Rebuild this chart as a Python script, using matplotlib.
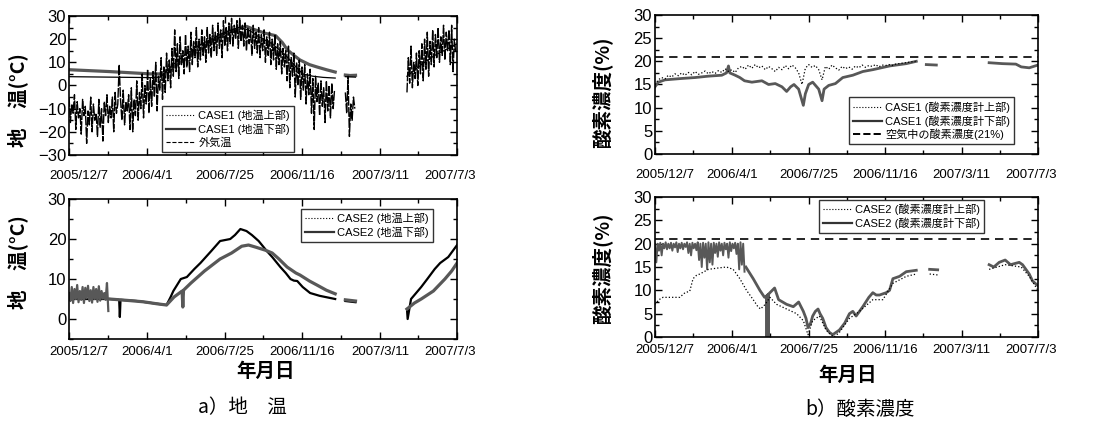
import numpy as np
import pandas as pd
import matplotlib
matplotlib.use("Agg")
import matplotlib.pyplot as plt
import matplotlib.transforms as mtransforms
from matplotlib.lines import Line2D
from matplotlib.ticker import MultipleLocator

nan = np.nan
START = pd.Timestamp("2005-12-07")
END = pd.Timestamp("2007-07-03")
tick_labels = ["2005/12/7", "2006/4/1", "2006/7/25", "2006/11/16", "2007/3/11", "2007/7/3"]

# ---- a) ground temperature, CASE1 (days since 2005/12/7) ----
c1_low_days = [0, 30, 60, 90, 120, 135, 150, 170, 190, 210, 230, 250, 262, 275, 290, 305,
               315, 322, 332, 341, 355, 366, 380, 393, 400, 408, 415, 423]
c1_low_vals = [6.8, 6.4, 6.0, 5.5, 5.0, 5.0, 7, 11, 15, 19, 22, 24.5, 25.5, 24, 22.5, 21.5,
               18.5, 15.5, 13, 11, 9, 8, 6.8, 5.8, nan, 4.5, 4.3, 4.4]
c1_up_days = [0, 60, 120, 135, 150, 170, 190, 210, 230, 250, 265, 280, 300, 320, 335, 345,
              360, 375, 393, 400, 408, 423, 450, 499, 520, 540, 560, 573]
c1_up_vals = [3.8, 3.6, 3.4, 3.6, 8, 13, 17, 20, 23, 25, 24, 21, 18, 13, 8, 5,
              4, 3.5, 3.2, nan, 3.8, 3.6, nan, 4, 9, 13, 16, 18]

# outside air temperature, 2-day samples in three recorded periods
air_1 = [-5, -16, -8, -12, -4, -19, -7, -14, -10, -21,
         -6, -13, -9, -25, -11, -17, -5, -20, -8, -15,
         -12, -22, -6, -18, -10, -24, -7, -13, -4, -16,
         -9, -14, -5, -20, -3, -12, -8, 9, -6, -15,
         -2, -17, -7, -11, -4, -19, -1, -20, -6, -13,
         2, -15, -3, -10, 5, -14, 0, -8, 7, -12,
         3, -9, 6, -5, 10, -11, 4, -2, 12, -6,
         8, -3, 14, 2, 11, -1, 16, 4, 24, 6,
         18, 3, 21, 9, 15, 5, 22, 8, 17, 6,
         23, 9, 19, 12, 25, 8, 20, 11, 24, 13,
         21, 10, 25, 14, 22, 12, 26, 15, 23, 13,
         27, 16, 24, 12, 28, 17, 25, 15, 27, 18,
         29, 17, 26, 20, 28, 16, 29, 19, 26, 17,
         27, 15, 25, 18, 24, 13, 26, 16, 23, 14,
         25, 12, 22, 15, 24, 10, 21, 13, 23, 9,
         20, 11, 22, 7, 18, 9, 19, 5, 16, 8,
         15, 2, 17, -1, 12, 4, 14, -5, 10, 0,
         11, -6, 8, -2, 9, -8, 5, -4, 7, -12,
         3, -19, 4, -7, 1, -13, 2, -9, -1, -16,
         2, -11, 0, -14, 1, -10, -2]
air_2 = [-3, -12, 4, -22, -8, -15, -5, -10]
air_3 = [-3, 12, 1, 17, -1, 10, 3, 14, 0, 15, 5, 18, 2, 20, 7, 23, 4, 19, 9, 24,
         8, 22, 12, 25, 10, 21, 13, 26, 11, 23, 15, 24, 9, 26, 6, 20, 14]
air_starts = [0, 408, 499]

# ---- a) ground temperature, CASE2 ----
c2_band = [6.5, 4.5, 8, 4, 7.5, 5, 8.5, 4.2, 7, 4.8, 8, 4, 7.8, 5.2, 8.3, 4.5, 7.2, 4.1, 8, 5,
           7.5, 4.3, 8.2, 4.6, 7, 5.1, 6.5, 4.8, 9, 2]
c2_low_days = [60, 75, 90, 110, 130, 144, 155, 167, 168, 169, 180, 200, 223, 240, 255, 265, 275,
               290, 300, 310, 322, 335, 341, 355, 366, 380, 393, 400, 408, 423, 450,
               499, 510, 520, 538, 555, 565, 573]
c2_low_vals = [5, 4.8, 4.6, 4.3, 3.8, 3.5, 5.5, 7, 3, 7.2, 9, 12, 15, 16.5, 18.2, 18.5, 18,
               17.2, 16.5, 15, 13, 11.5, 11, 9.5, 8.5, 7.2, 6.3, nan, 4.8, 4.5, nan,
               2.5, 4, 5, 7, 10, 12, 14]
c2_up_days = [0, 60, 74, 75, 76, 100, 144, 150, 154, 165, 174, 185, 194, 210, 223, 238, 245, 253,
              262, 270, 280, 292, 300, 312, 320, 327, 332, 337, 345, 356, 370, 393, 400,
              408, 423, 450, 499, 500, 505, 520, 529, 540, 548, 560, 573]
c2_up_vals = [5, 5, 4.8, 0.5, 4.8, 4.5, 3.5, 5.5, 7, 10, 10.5, 12.5, 14, 17, 19.5, 20, 21, 22.5,
              22, 21, 19.5, 17, 15.5, 13, 11.5, 10, 9.6, 9.5, 8, 6.5, 5.8, 5, nan,
              4.5, 4.2, nan, 2.5, 0, 5, 8, 10, 12.5, 14, 15.5, 18.5]

# ---- b) oxygen concentration, CASE1 ----
o1_low_days = [0, 5, 15, 40, 60, 80, 100, 107, 110, 112, 120, 127, 134, 145, 160, 170, 180, 190,
               197, 203, 208, 215, 219, 222, 225, 230, 236, 245, 250, 253, 260, 270, 281, 296,
               311, 326, 351, 376, 391, 398, 406, 421, 460, 500, 520, 540, 548, 560, 573]
o1_low_vals = [14.5, 15.5, 16, 16.3, 16.5, 16.8, 17, 17.5, 19, 17.5, 17, 16.5, 15.8, 15.5, 15.8,
               15, 15.2, 14.5, 13.5, 14.5, 15, 14, 12, 10.5, 13, 15, 15.5, 14, 11.5, 14, 14.8,
               15.2, 16.5, 17, 17.8, 18.2, 19, 19.5, 20, nan, 19.3, 19.2, nan,
               19.7, 19.5, 19.4, 18.8, 18.6, 19.2]
# upper sensor, 5-day samples from 2005/12/7
o1_up = [15, 16, 16.5, 16.2, 17, 16.6, 17.3, 16.9, 17.5, 17,
         17.6, 17.1, 17.8, 17.2, 17.5, 17.9, 17.3, 17.8, 17.4, 18,
         17.6, 18.4, 17.8, 18.2, 17.6, 18.6, 18.9, 18.3, 19.2, 18.5,
         19.3, 18.6, 19, 18.2, 18.9, 18.4, 17.8, 18.7, 18.2, 19.1,
         18.4, 19.2, 18.6, 17.5, 15, 18.5, 19.3, 18.7, 19.1, 18.2,
         16, 18.9, 18.3, 19.2, 18.6, 18.1, 18.9, 18.4, 18.8, 18.3,
         19, 18.6, 19.2, 18.7, 19.1, 18.9, 19.3, 18.8, 19.2, 19.1,
         19.3, 19.1, 19.4, 19.5, 19.6, 19.7, 19.8, 19.9, 20]
air_o2 = 21

# ---- b) oxygen concentration, CASE2 ----
# lower sensor, 2-day samples 2005/12/7 - 2006/4/20
o2_band = [20, 16, 20, 18.5, 20.2, 17.5, 20, 19, 20.3, 18.8,
           20, 19, 20.2, 18.5, 20, 19.2, 20.3, 18.2, 20, 19,
           20.2, 18.8, 20, 19.3, 20.3, 18, 20, 17.5, 20.2, 19,
           20, 18.6, 20.3, 16.5, 20, 15, 20.2, 17, 20, 14.5,
           20.3, 16, 20, 15.5, 20.2, 18, 20, 17.2, 20.3, 18.5,
           20, 17.5, 20.2, 18.8, 20, 17, 20.3, 18.4, 20, 19,
           20.2, 17.8, 20, 14.5, 20.3, 15.5, 20, 14]
o2_low_days = [136, 147, 157, 164, 167, 167.5, 168, 168.5, 169, 169.5, 170, 172, 179, 185, 197,
               207, 215, 222, 226, 229, 233, 236, 240, 244, 247, 251, 256, 261, 266, 271, 276,
               284, 291, 296, 301, 311, 320, 326, 331, 336, 346, 351, 356, 366, 376, 391, 400,
               411, 423, 460, 500, 507, 515, 524, 532, 545, 550, 560, 565, 573]
o2_low_vals = [15, 12.5, 10, 8.5, 8.8, 0, 9, 0, 9, 0, 9.2, 9.5, 10.5, 8, 7, 6.5, 7.5, 5.5, 4, 2,
               3, 4.5, 5.5, 6, 5, 4, 2, 1, 0.5, 1, 1.5, 3, 5, 5.5, 4.5, 6.5, 8.5, 9.5, 9, 9,
               9.5, 10, 12.5, 13, 14, 14.3, nan, 14.5, 14.4, nan,
               15.5, 15, 16, 16.5, 15.5, 16, 15.5, 13.5, 12, 11]
o2_up_days = [0, 6, 12, 25, 37, 45, 52, 57, 62, 67, 80, 95, 107, 117, 122, 127, 137, 147, 154,
              158, 165, 172, 182, 197, 212, 222, 229, 236, 246, 256, 263, 268, 276, 291, 306,
              326, 341, 356, 376, 391, 400, 411, 423, 460, 500, 524, 548, 560, 573]
o2_up_vals = [7, 8, 8.5, 8.5, 8.5, 9.5, 9.8, 12.5, 13.2, 13.5, 14.5, 14.8, 15, 14.5, 13.5,
              12.5, 10, 8, 6.5, 6, 7, 8.5, 7, 6, 5, 3.5, 0.5, 3.5, 4.5, 1.5, 0.5, 0, 1, 4,
              5.5, 8, 8, 11.5, 13, 13.5, nan, 13.5, 13.3, nan, 14.5, 15.5, 15, 13, 10]


def to_dates(days):
    return START + pd.to_timedelta(np.asarray(days, dtype=float), unit="D")


def sampled(vals, first, step):
    return to_dates(first + step * np.arange(len(vals))), vals


LATIN = ["Liberation Sans", "Noto Sans CJK JP"]
CJK = ["Noto Sans CJK JP", "DejaVu Sans"]
GRAY = "#585858"

fig = plt.figure(figsize=(11.03, 4.26), dpi=100)
ax_a1 = fig.add_axes([0.0626, 0.6362, 0.3518, 0.3263])
ax_a2 = fig.add_axes([0.0626, 0.2042, 0.3518, 0.3286])
ax_b1 = fig.add_axes([0.5938, 0.6385, 0.3472, 0.3263])
ax_b2 = fig.add_axes([0.5938, 0.2089, 0.3472, 0.3286])

label_dates = pd.to_datetime(tick_labels, format="%Y/%m/%d")
mid_dates = label_dates[:-1] + (label_dates[1:] - label_dates[:-1]) / 2


def style(ax, ylim, major, minor, pad):
    ax.set_xlim(START, END)
    ax.set_ylim(*ylim)
    ax.set_xticks(label_dates)
    ax.set_xticks(mid_dates, minor=True)
    ax.set_xticklabels(tick_labels, family=LATIN, fontsize=9.5)
    ax.yaxis.set_major_locator(MultipleLocator(major))
    ax.yaxis.set_minor_locator(MultipleLocator(minor))
    for lab in ax.get_yticklabels():
        lab.set_family(LATIN)
        lab.set_fontsize(12)
    ax.tick_params(which="both", direction="in", top=True, right=True, width=1.0)
    ax.tick_params(which="major", length=5)
    ax.tick_params(which="minor", length=3)
    ax.tick_params(axis="x", pad=pad)
    ax.tick_params(axis="y", pad=2)
    for s in ax.spines.values():
        s.set_linewidth(1.2)
    xl = ax.get_xticklabels()
    xl[0].set_transform(xl[0].get_transform() + mtransforms.ScaledTranslation(10 / 100, 0, fig.dpi_scale_trans))
    xl[-1].set_transform(xl[-1].get_transform() + mtransforms.ScaledTranslation(-7 / 100, 0, fig.dpi_scale_trans))


def add_legend(ax, labels, styles, loc, anchor):
    h = [Line2D([], [], color=c, lw=w, ls=s) for c, w, s in styles]
    ax.legend(h, labels, loc=loc, bbox_to_anchor=anchor, prop={"family": LATIN, "size": 8},
              fancybox=False, edgecolor="#333333", framealpha=1, handlelength=2.6,
              handletextpad=0.3, borderpad=0.35, labelspacing=0.2, borderaxespad=0)


dotted = ("black", 0.8, ":")
solid = ("#333333", 1.6, "-")

# a) top
ax_a1.plot(to_dates(c1_low_days), c1_low_vals, color=GRAY, lw=2.3)
ax_a1.plot(to_dates(c1_up_days), c1_up_vals, color="black", lw=0.9)
for vals, first in zip([air_1, air_2, air_3], air_starts):
    ax_a1.plot(*sampled(vals, first, 2), color="black", lw=1.0, ls=(0, (7, 1)))
style(ax_a1, (-30, 30), 10, 5, 11)
add_legend(ax_a1, ["CASE1 (地温上部)", "CASE1 (地温下部)", "外気温"],
           [dotted, solid, ("black", 0.8, "--")], "lower left", (0.24, 0.025))

# a) bottom
ax_a2.plot(to_dates(c2_up_days), c2_up_vals, color="black", lw=1.6)
ax_a2.plot(*sampled(c2_band, 0, 2), color=GRAY, lw=1.6)
ax_a2.plot(to_dates(c2_low_days), c2_low_vals, color=GRAY, lw=2.3)
style(ax_a2, (-5, 30), 10, 5, 5)
add_legend(ax_a2, ["CASE2 (地温上部)", "CASE2 (地温下部)"], [dotted, solid],
           "upper left", (0.598, 0.93))

# b) top
ax_b1.axhline(air_o2, color="black", lw=1.2, ls=(0, (5, 3.5)))
ax_b1.plot(to_dates(o1_low_days), o1_low_vals, color=GRAY, lw=2.0)
ax_b1.plot(*sampled(o1_up, 0, 5), color="black", lw=0.9, ls=":")
style(ax_b1, (0, 30), 5, 2.5, 11)
add_legend(ax_b1, ["CASE1 (酸素濃度計上部)", "CASE1 (酸素濃度計下部)", "空気中の酸素濃度(21%)"],
           [dotted, solid, ("black", 1.4, "--")], "lower left", (0.507, 0.07))

# b) bottom
ax_b2.axhline(air_o2, color="black", lw=1.2, ls=(0, (5, 3.5)))
ax_b2.plot(*sampled(o2_band, 0, 2), color=GRAY, lw=1.4)
ax_b2.plot(to_dates(o2_low_days), o2_low_vals, color=GRAY, lw=2.0)
ax_b2.plot(to_dates(o2_up_days), o2_up_vals, color="black", lw=0.9, ls=":")
style(ax_b2, (0, 30), 5, 2.5, 5)
add_legend(ax_b2, ["CASE2 (酸素濃度計上部)", "CASE2 (酸素濃度計下部)"], [dotted, solid],
           "upper left", (0.428, 0.98))


def fx(px):
    return px / 1103


def fy(py):
    return 1 - py / 426


lab = dict(family=CJK, fontsize=14, fontweight="bold", rotation=90, ha="center", va="center")
fig.text(fx(18), fy(100), "地　温(°C)", **lab)
fig.text(fx(18), fy(262), "地　温(°C)", **lab)
fig.text(fx(602), fy(92), "酸素濃度(%)", **lab)
fig.text(fx(602), fy(268), "酸素濃度(%)", **lab)
fig.text(fx(266), fy(371), "年月日", family=CJK, fontsize=14, fontweight="bold", ha="center", va="center")
fig.text(fx(848), fy(375), "年月日", family=CJK, fontsize=14, fontweight="bold", ha="center", va="center")
fig.text(fx(242), fy(408), "a）地　温", family=CJK, fontsize=14, ha="center", va="center")
fig.text(fx(860), fy(409), "b）酸素濃度", family=CJK, fontsize=14, ha="center", va="center")

fig.savefig("out.png", dpi=100)
